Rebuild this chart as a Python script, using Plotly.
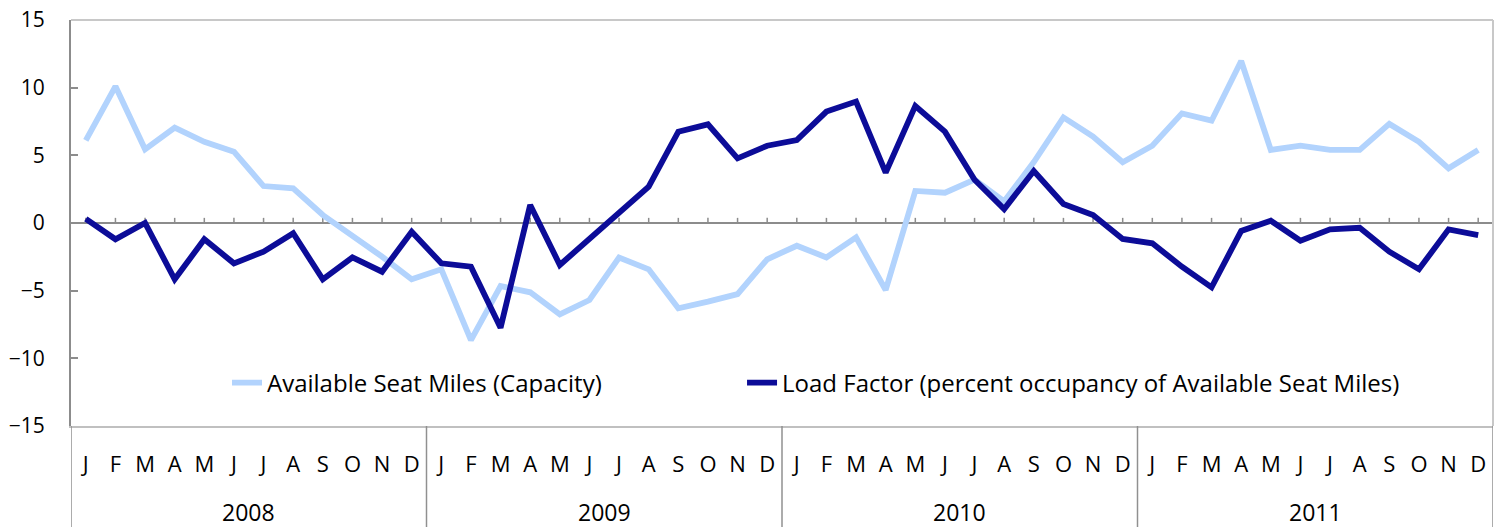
import plotly.graph_objects as go

years = ["2008", "2009", "2010", "2011"]
months = ["J", "F", "M", "A", "M", "J", "J", "A", "S", "O", "N", "D"]

asm_capacity = [
    6.1, 10.1, 5.45, 7.05, 6.0, 5.27, 2.73, 2.56, 0.59, -0.89, -2.49, -4.16,
    -3.42, -8.65, -4.66, -5.12, -6.75, -5.69, -2.56, -3.42, -6.3, -5.81, -5.25, -2.68,
    -1.68, -2.54, -1.06, -4.95, 2.37, 2.24, 3.2, 1.6, 4.5, 7.8, 6.38, 4.49,
    5.71, 8.1, 7.56, 11.97, 5.4, 5.71, 5.4, 5.4, 7.32, 6.0, 4.04, 5.4,
]
load_factor = [
    0.3, -1.2, 0.0, -4.16, -1.2, -2.98, -2.12, -0.76, -4.16, -2.54, -3.6, -0.64,
    -2.98, -3.23, -7.74, 1.33, -3.1, -1.2, 0.84, 2.68, 6.75, 7.29, 4.78, 5.71,
    6.13, 8.23, 8.97, 3.72, 8.65, 6.75, 3.2, 1.03, 3.84, 1.4, 0.59, -1.18,
    -1.5, -3.23, -4.75, -0.59, 0.17, -1.31, -0.47, -0.35, -2.12, -3.42, -0.47, -0.89,
]
series_names = ["Available Seat Miles (Capacity)",
                "Load Factor (percent occupancy of Available Seat Miles)"]
y_ticks = [-15, -10, -5, 0, 5, 10, 15]

n = len(years) * len(months)
xs = list(range(n))
tick_text = months * len(years)

FONT = "Open Sans"
fig = go.Figure()
fig.add_trace(go.Scatter(x=xs, y=asm_capacity, mode="lines", name=series_names[0],
                         line=dict(color="#b2d3fd", width=5.8), legend="legend"))
fig.add_trace(go.Scatter(x=xs, y=load_factor, mode="lines", name=series_names[1],
                         line=dict(color="#0c0c98", width=5.8), legend="legend2"))

shapes = []
# small tick marks on zero line
for i in xs:
    shapes.append(dict(type="line", xref="x", yref="y", x0=i, x1=i, y0=0, y1=0.38,
                       line=dict(color="#8c8c8c", width=1.5), layer="below"))
# year dividers below the plot
for k in range(len(years) + 1):
    xv = -0.5 + 12 * k
    shapes.append(dict(type="line", xref="x", yref="paper", x0=xv, x1=xv, y0=0, y1=-0.25,
                       line=dict(color="#909090", width=1.5)))
# frame top and right
shapes.append(dict(type="line", xref="paper", yref="paper", x0=0, x1=1, y0=1, y1=1,
                   line=dict(color="#c8c8c8", width=2)))
shapes.append(dict(type="line", xref="paper", yref="paper", x0=1, x1=1, y0=0, y1=1,
                   line=dict(color="#c8c8c8", width=2)))

annotations = []
for k, yr in enumerate(years):
    annotations.append(dict(x=5.5 + 12 * k, y=-0.212, xref="x", yref="paper", text=yr,
                            showarrow=False, yanchor="middle",
                            font=dict(family=FONT, size=23, color="black")))

legend_common = dict(orientation="h", y=0.106, xanchor="left", yanchor="middle",
                     bgcolor="rgba(0,0,0,0)",
                     font=dict(family=FONT, size=24, color="black"))

fig.update_layout(
    width=1506, height=527,
    margin=dict(l=71, r=13, t=20, b=101, autoexpand=False),
    plot_bgcolor="white", paper_bgcolor="white",
    font=dict(family=FONT, size=22, color="black"),
    showlegend=True,
    legend=dict(x=0.1097, **legend_common),
    legend2=dict(x=0.4719, **legend_common),
    xaxis=dict(range=[-0.5, n - 0.5], tickmode="array", tickvals=xs, ticktext=tick_text,
               showgrid=False, zeroline=False, showline=True, linecolor="#c0c0c0",
               linewidth=2, ticks="", ticklabelstandoff=18, automargin=False,
               ticklabeloverflow="allow",
               tickfont=dict(family=FONT, size=22, color="black")),
    yaxis=dict(range=[-15, 15], tickmode="array", tickvals=y_ticks, automargin=False,
               showgrid=False, zeroline=True, zerolinecolor="#8c8c8c", zerolinewidth=2,
               showline=True, linecolor="#8c8c8c", linewidth=2,
               ticks="inside", ticklen=7, tickcolor="#8c8c8c", tickwidth=2,
               ticklabelstandoff=20, ticklabeloverflow="allow",
               tickfont=dict(family=FONT, size=21, color="black")),
    shapes=shapes, annotations=annotations,
)

fig.write_html("out.html", config={"displayModeBar": False},
               post_script="document.body.style.margin='0px';document.body.style.overflow='hidden';")
